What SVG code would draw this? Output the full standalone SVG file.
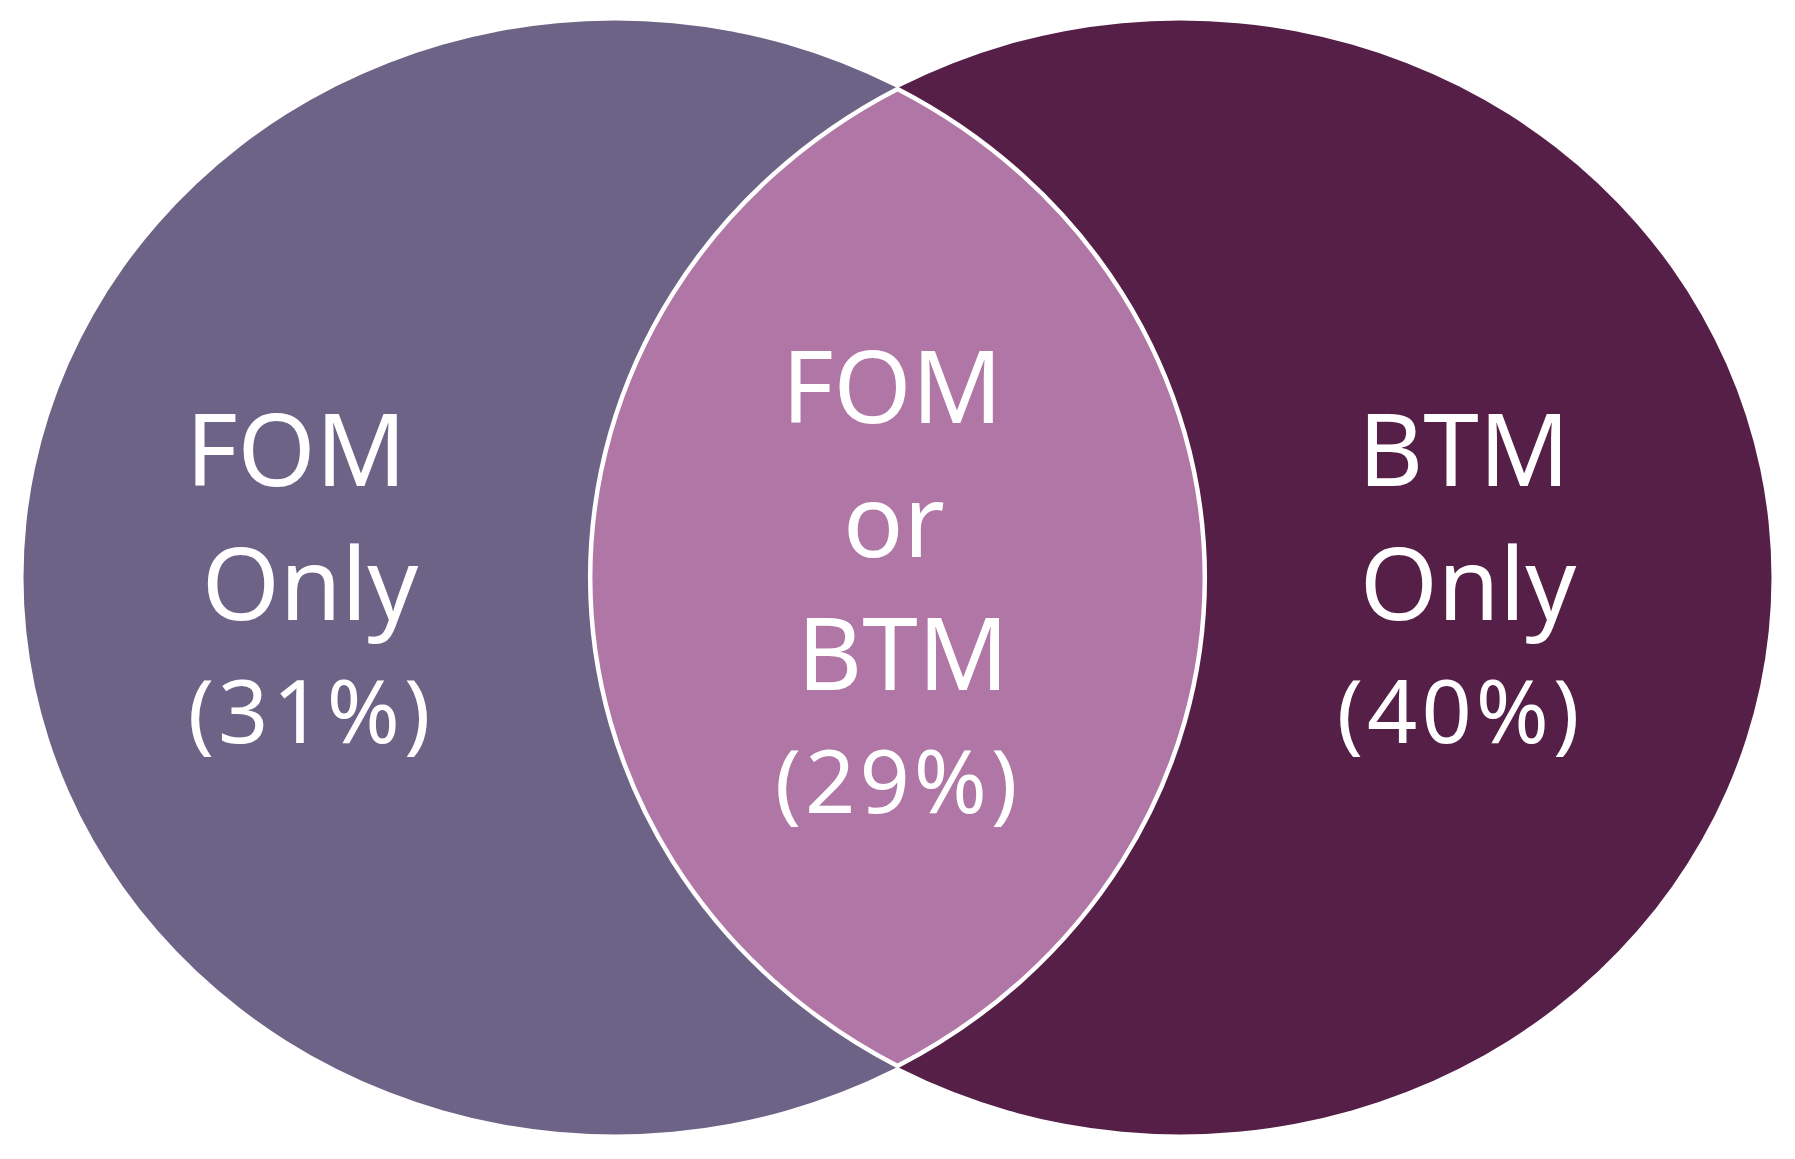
<svg xmlns="http://www.w3.org/2000/svg" width="1795" height="1159" viewBox="0 0 1795 1159">
<style>
.t{font-family:"Noto Sans","Open Sans","Liberation Sans",sans-serif;fill:#fff;text-anchor:middle;font-size:100px}
.p{font-size:88px;letter-spacing:4px}
</style>
<rect width="1795" height="1159" fill="#fff"/>
<g id="fom-only">
<ellipse cx="615" cy="577.5" rx="591.5" ry="557" fill="#6D6386"/>
</g>
<g id="btm-only">
<ellipse cx="1180" cy="577.5" rx="591.5" ry="557" fill="#561F47"/>
</g>
<g id="overlap">
<path d="M897.5 89 A591.5 557 0 0 0 897.5 1066 A591.5 557 0 0 0 897.5 89 Z" fill="#B076A5" stroke="#fff" stroke-width="4.5"/>
</g>
<g id="labels-left">
<text class="t" x="296" y="486">FOM</text>
<text class="t" x="310" y="620">Only</text>
<text class="t p" x="311" y="743">(31%)</text>
</g>
<g id="labels-middle">
<text class="t" x="892" y="423">FOM</text>
<text class="t" x="894" y="557">or</text>
<text class="t" x="903" y="690">BTM</text>
<text class="t p" x="898" y="813">(29%)</text>
</g>
<g id="labels-right">
<text class="t" x="1464" y="486">BTM</text>
<text class="t" x="1468" y="620">Only</text>
<text class="t p" x="1460" y="743">(40%)</text>
</g>
<g id="connectors"/>
</svg>
